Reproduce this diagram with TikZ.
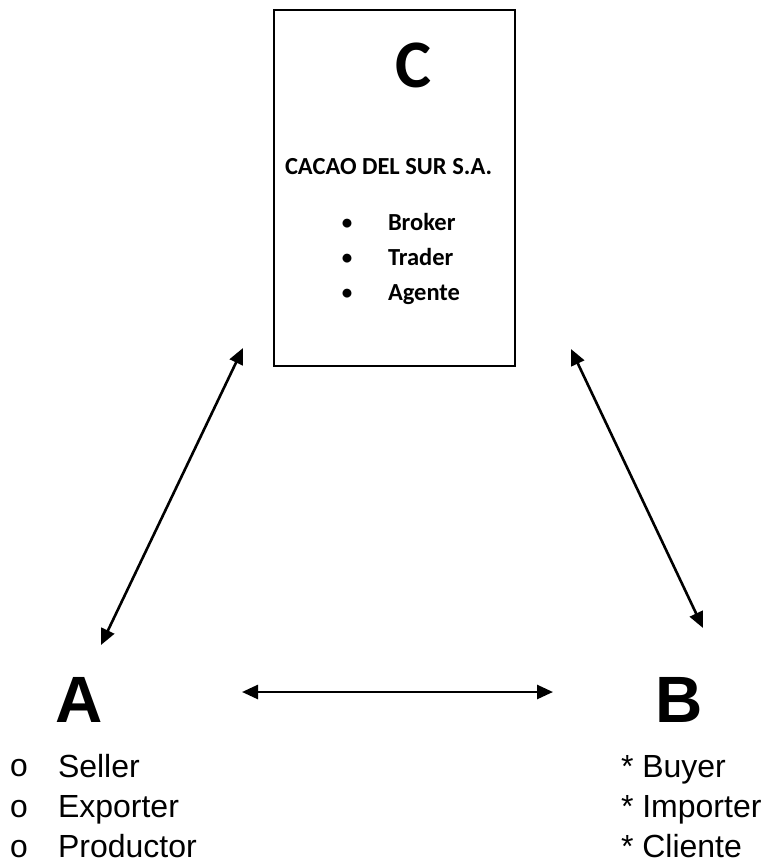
\documentclass[tikz,border=0pt]{standalone}
\usepackage{fontspec}
\setmainfont{Liberation Sans}
\newfontfamily\calib{Carlito}
\newfontfamily\cour{Liberation Mono}
\usetikzlibrary{arrows.meta}
\tikzset{
  txt/.style={inner sep=0pt, outer sep=0pt, anchor=base west},
  boxtxt/.style={txt, font=\calib\bfseries\fontsize{24.5}{28}\selectfont},
  listtxt/.style={txt, font=\fontsize{32}{36}\selectfont},
  bigletter/.style={txt, font=\bfseries\fontsize{65.5}{70}\selectfont},
  link/.style={line width=2.6pt, {Triangle[length=16pt,width=14pt]}-{Triangle[length=16pt,width=14pt]}},
  frame/.style={draw, line width=2pt, inner sep=0pt, minimum width=241pt, minimum height=356pt}
}
\begin{document}
\begin{tikzpicture}[x=1pt, y=-1pt]
\useasboundingbox (0,0) rectangle (765,863);
% box C
\node[frame, anchor=north west] (box) at (273,9) {};
\node[txt, anchor=base, font=\calib\bfseries\fontsize{68}{70}\selectfont] (cC) at (413,87) {C};
\node[boxtxt] (cname) at (285,174) {CACAO DEL SUR S.A.};
\node[boxtxt, anchor=base, font=\calib\bfseries\fontsize{21}{24}\selectfont] (b1) at (347,229) {•};
\node[boxtxt, anchor=base, font=\calib\bfseries\fontsize{21}{24}\selectfont] (b2) at (347,264) {•};
\node[boxtxt, anchor=base, font=\calib\bfseries\fontsize{21}{24}\selectfont] (b3) at (347,299) {•};
\node[boxtxt] (t1) at (388,230) {Broker};
\node[boxtxt] (t2) at (388,265) {Trader};
\node[boxtxt] (t3) at (388,300) {Agente};
% A
\node[bigletter] (A) at (55,722) {A};
\node[listtxt, anchor=base, font=\cour\fontsize{32}{36}\selectfont] (oa1) at (19,776) {o};
\node[listtxt, anchor=base, font=\cour\fontsize{32}{36}\selectfont] (oa2) at (19,817) {o};
\node[listtxt, anchor=base, font=\cour\fontsize{32}{36}\selectfont] (oa3) at (19,857) {o};
\node[listtxt] (a1) at (58,777) {Seller};
\node[listtxt] (a2) at (58,817) {Exporter};
\node[listtxt] (a3) at (58,857) {Productor};
% B
\node[bigletter] (B) at (655,722) {B};
\node[listtxt] (bl1) at (621,777) {* Buyer};
\node[listtxt] (bl2) at (621,817) {* Importer};
\node[listtxt] (bl3) at (621,857) {* Cliente};
% arrow end points
\coordinate (cl) at (243,348);
\coordinate (al) at (101,645);
\coordinate (cr) at (571,349);
\coordinate (br) at (703,628);
\coordinate (ah) at (242,692);
\coordinate (bh) at (553,692);
\draw[link] (al) -- (cl);
\draw[link] (cr) -- (br);
\draw[link] (ah) -- (bh);
\end{tikzpicture}
\end{document}
